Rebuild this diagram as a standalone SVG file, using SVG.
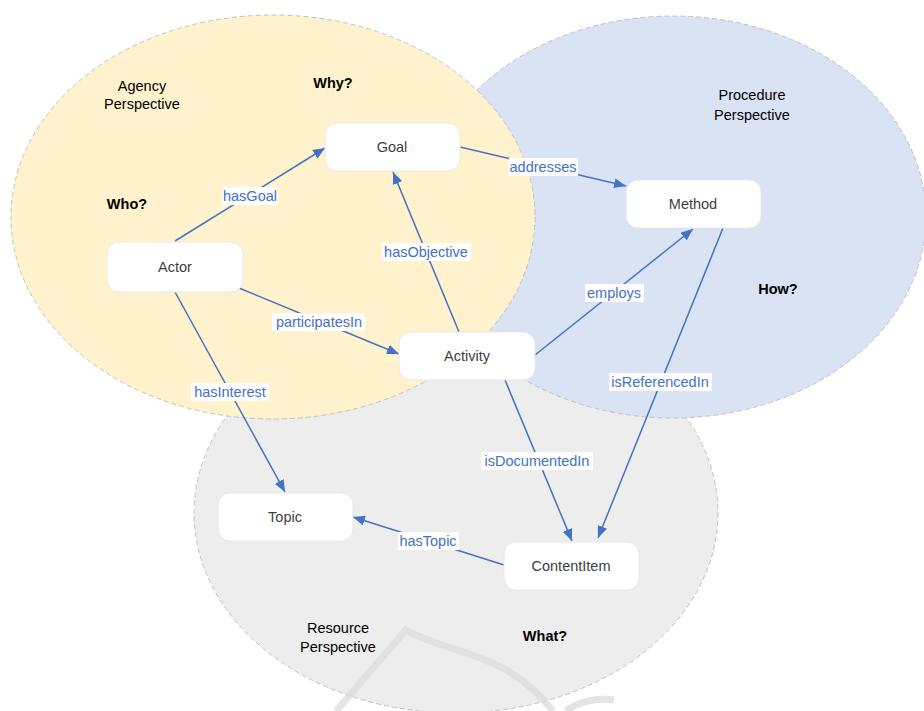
<svg xmlns="http://www.w3.org/2000/svg" width="924" height="711" viewBox="0 0 924 711">
<defs>
<marker id="arr" viewBox="0 0 12 10" refX="12" refY="5" markerWidth="12" markerHeight="10" markerUnits="userSpaceOnUse" orient="auto">
<path d="M0,0 L12,5 L0,10 z" fill="#4472c4"/>
</marker>
<style>
.persp{stroke:#c0c0c0;stroke-width:1;stroke-dasharray:5,3}
.node rect{fill:#fff;stroke:#e8e8e8;stroke-width:1}
.node text{font-family:"Liberation Sans",Arial,sans-serif;font-size:14.5px;fill:#404040;text-anchor:middle}
.lbl{font-family:"Liberation Sans",Arial,sans-serif;font-size:14.5px;fill:#000;text-anchor:middle}
.q{font-family:"Liberation Sans",Arial,sans-serif;font-size:14.5px;font-weight:bold;fill:#000;text-anchor:middle}
.edge line{stroke:#4472c4;stroke-width:1.5;marker-end:url(#arr)}
.elbl rect{fill:#fff}
.elbl text{font-family:"Liberation Sans",Arial,sans-serif;font-size:14.5px;fill:#4472c4;text-anchor:middle}
</style>
</defs>
<rect width="924" height="711" fill="#fff"/>
<g id="resource">
<ellipse class="persp" cx="456" cy="513" rx="262" ry="200" fill="#ededed"/>
</g>
<g id="procedure">
<ellipse class="persp" cx="673" cy="217" rx="253" ry="201" fill="#dae3f3"/>
</g>
<g id="agency">
<ellipse class="persp" cx="273" cy="217" rx="262" ry="202" fill="#fff2cc"/>
</g>
<g id="watermark" fill="none" stroke="#dcdcdc" stroke-width="7" opacity="0.75">
<path d="M336,711 L406,630 C450,655 505,650 553,711"/>
<path d="M566,711 C580,700 600,698 614,700"/>
</g>
<g id="labels">
<text class="lbl" x="142" y="91">Agency</text>
<text class="lbl" x="142" y="109">Perspective</text>
<text class="q" x="333" y="88">Why?</text>
<text class="q" x="127" y="209">Who?</text>
<text class="lbl" x="752" y="100">Procedure</text>
<text class="lbl" x="752" y="120">Perspective</text>
<text class="q" x="778" y="294">How?</text>
<text class="lbl" x="338" y="633">Resource</text>
<text class="lbl" x="338" y="652">Perspective</text>
<text class="q" x="545" y="641">What?</text>
</g>
<g id="connectors">
<g class="edge">
<line x1="175" y1="241" x2="325" y2="148"/>
<line x1="239" y1="288" x2="399" y2="354"/>
<line x1="459" y1="332" x2="393" y2="172"/>
<line x1="460" y1="147" x2="626" y2="186"/>
<line x1="535" y1="355" x2="693" y2="229"/>
<line x1="723" y1="228" x2="598" y2="538"/>
<line x1="175" y1="292" x2="285" y2="492"/>
<line x1="505" y1="380" x2="572" y2="541"/>
<line x1="504" y1="565" x2="353" y2="517"/>
</g>
<g class="elbl">
<rect x="222" y="187" width="56" height="18"/><text x="250" y="201">hasGoal</text>
<rect x="272" y="313" width="93" height="18"/><text x="319" y="327">participatesIn</text>
<rect x="382" y="243" width="89" height="18"/><text x="426" y="257">hasObjective</text>
<rect x="509" y="158" width="69" height="18"/><text x="543" y="172">addresses</text>
<rect x="585" y="284" width="59" height="18"/><text x="614" y="298">employs</text>
<rect x="609" y="373" width="103" height="18"/><text x="660" y="387">isReferencedIn</text>
<rect x="191" y="383" width="78" height="18"/><text x="230" y="397">hasInterest</text>
<rect x="481" y="452" width="112" height="18"/><text x="537" y="466">isDocumentedIn</text>
<rect x="398" y="532" width="61" height="18"/><text x="428" y="546">hasTopic</text>
</g>
</g>
<g id="Goal" class="node"><rect x="325" y="123" width="135" height="48" rx="12"/><text x="392" y="152">Goal</text></g>
<g id="Actor" class="node"><rect x="107" y="242" width="136" height="50" rx="12"/><text x="175" y="272">Actor</text></g>
<g id="Method" class="node"><rect x="626" y="180" width="135" height="48" rx="12"/><text x="693" y="209">Method</text></g>
<g id="Activity" class="node"><rect x="399" y="332" width="136" height="48" rx="12"/><text x="467" y="361">Activity</text></g>
<g id="Topic" class="node"><rect x="218" y="493" width="135" height="48" rx="12"/><text x="285" y="522">Topic</text></g>
<g id="ContentItem" class="node"><rect x="504" y="542" width="135" height="48" rx="12"/><text x="571" y="571">ContentItem</text></g>
</svg>
